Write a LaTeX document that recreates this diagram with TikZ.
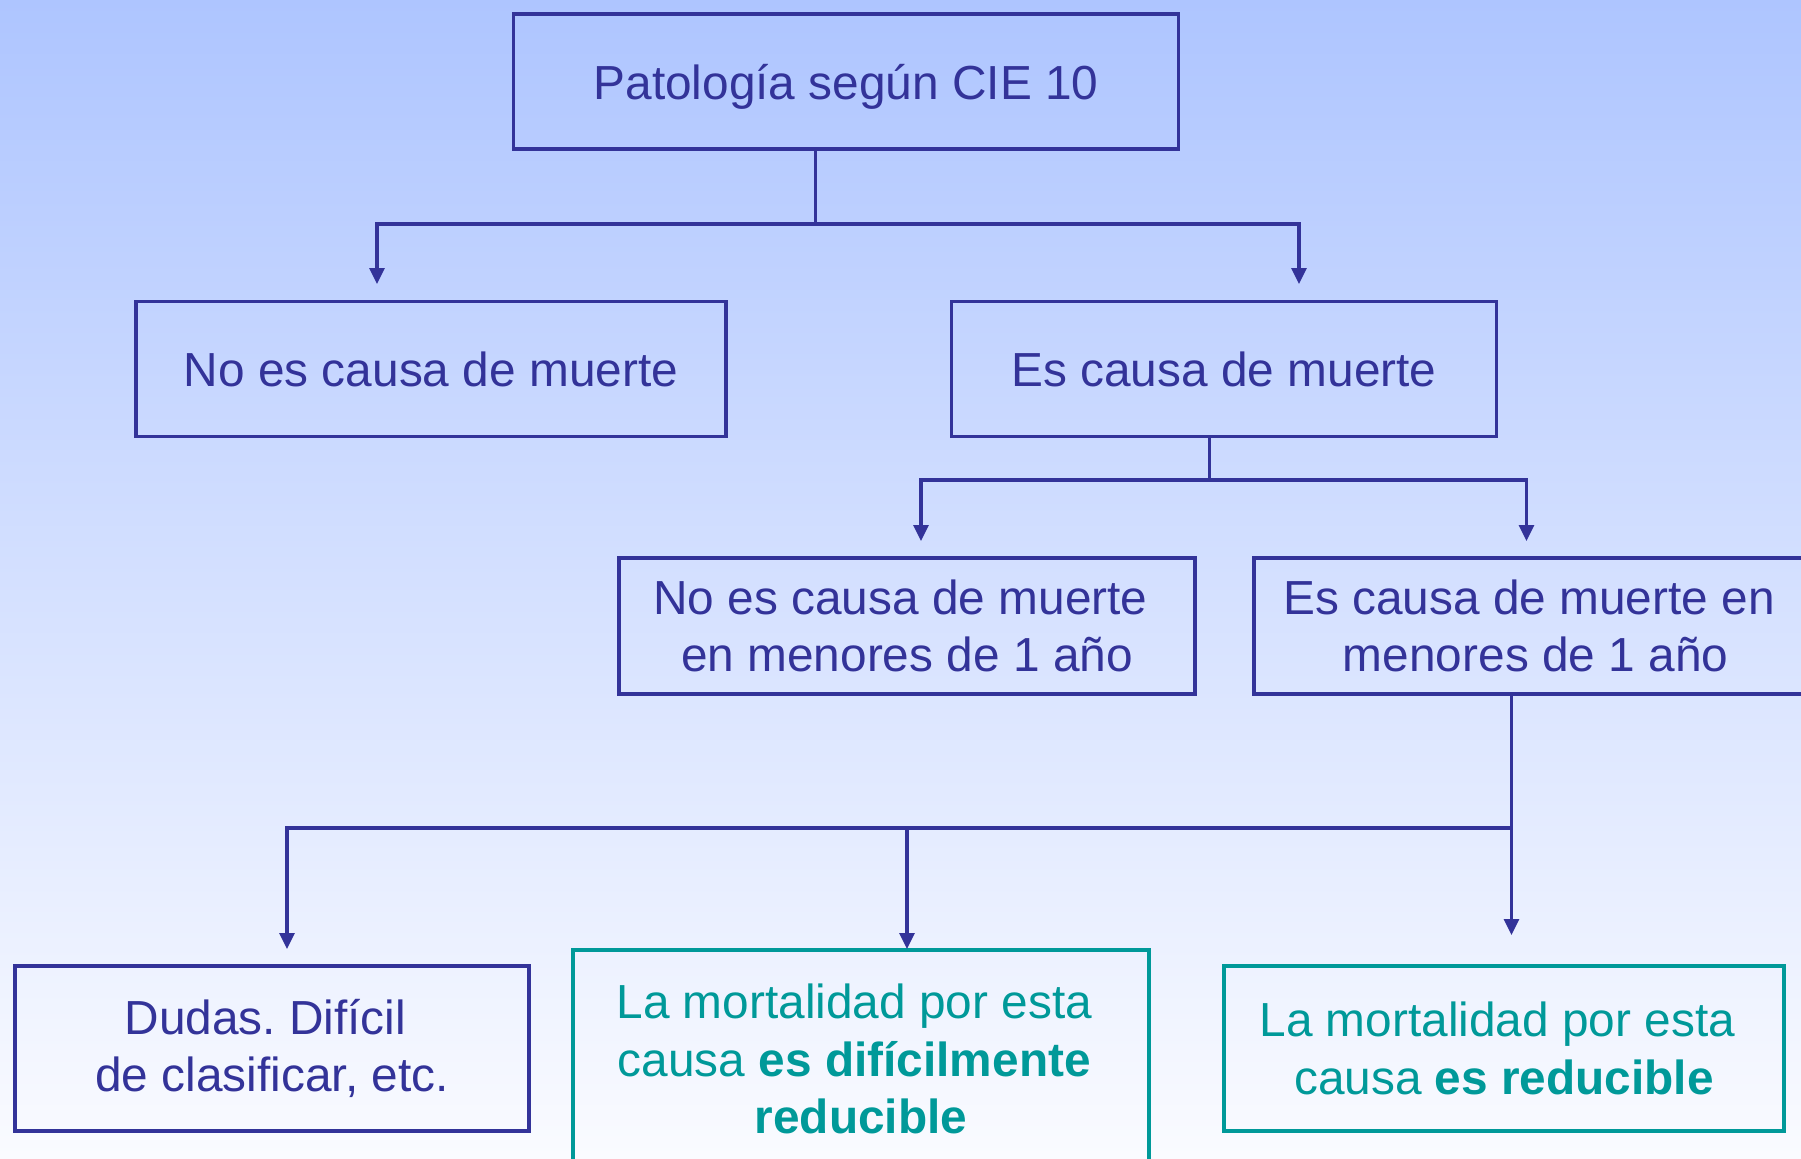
\documentclass[tikz,border=0pt]{standalone}
\usepackage{fontspec}
\setmainfont{Liberation Sans}
\usetikzlibrary{arrows.meta,positioning}
\definecolor{boxblue}{RGB}{51,51,153}
\definecolor{boxteal}{RGB}{0,153,153}
\definecolor{bgtop}{RGB}{174,197,255}
\definecolor{bgbottom}{RGB}{250,251,255}
\newcommand{\trailsp}{\hbox to 0.278em{}}
\frenchspacing

\begin{document}
\begin{tikzpicture}[x=0.5pt, y=-0.5pt, >={Triangle[length=8pt,width=7.5pt]},
  font=\fontsize{23.9}{28.7}\selectfont,
  every box/.style={draw=boxblue, line width=1.6pt, text=boxblue, align=center, inner sep=0pt},
  teal box/.style={draw=boxteal, line width=2.2pt, text=boxteal},
  link/.style={boxblue, line width=1.6pt}]

\useasboundingbox (0,0) rectangle (1801,1158);
\shade [top color=bgtop, bottom color=bgbottom] (0,0) rectangle (1801,1158);
\clip (0,0) rectangle (1801,1158);

% boxes
\node [every box, minimum width=332.5pt, minimum height=67.5pt, text height=22pt, text depth=4.5pt] (cie) at (846,81.5) {Patología según CIE 10};
\node [every box, minimum width=295pt, minimum height=67.5pt] (noes) at (431,369) {No es causa de muerte};
\node [every box, minimum width=272.5pt, minimum height=67.5pt] (es) at (1224,369) {Es causa de muerte};
\node [every box, minimum width=288pt, minimum height=68pt] (noes-1) at (907,626) {No es causa de muerte\trailsp\\en menores de 1 año};
\node [every box, minimum width=275pt, minimum height=68pt] (es-1) at (1529,626) {Es causa de muerte en\\\trailsp menores de 1 año};
\node [every box, minimum width=257pt, minimum height=82.5pt] (dudas) at (272,1048.5) {Dudas. Difícil\trailsp\\de clasificar, etc.};
\node [every box, teal box, minimum width=288pt, minimum height=109pt] (dific) at (861,1059)
  {La mortalidad por esta\trailsp\\causa \textbf{es difícilmente}\trailsp\\\textbf{reducible}};
\node [every box, teal box, minimum width=280pt, minimum height=82.5pt] (reduc) at (1504,1048.5)
  {La mortalidad por esta\trailsp\\causa \textbf{es reducible}};

% branch points and arrow ends
\coordinate (split-1) at (815.5,224);
\coordinate (split-2) at (1209.5,480);
\coordinate (split-3) at (1511.5,828);

\coordinate (tip-noes) at (377,284);
\coordinate (tip-es) at (1299,284);
\coordinate (tip-noes-1) at (921,541);
\coordinate (tip-es-1) at (1526.5,541);
\coordinate (tip-dudas) at (287,949);
\coordinate (tip-dific) at (907,949);
\coordinate (tip-reduc) at (1511.5,935);

\draw [link] (cie.south -| split-1) -- (split-1);
\draw [link] (es.south -| split-2) -- (split-2);
\draw [link] (es-1.south -| split-3) -- (split-3);

\foreach \s/\t in {1/noes, 1/es, 2/noes-1, 2/es-1, 3/dudas, 3/dific}
  \draw [link, ->] (split-\s) -| (tip-\t);

\draw [link, ->] (split-3) -- (tip-reduc);

\end{tikzpicture}
\end{document}
